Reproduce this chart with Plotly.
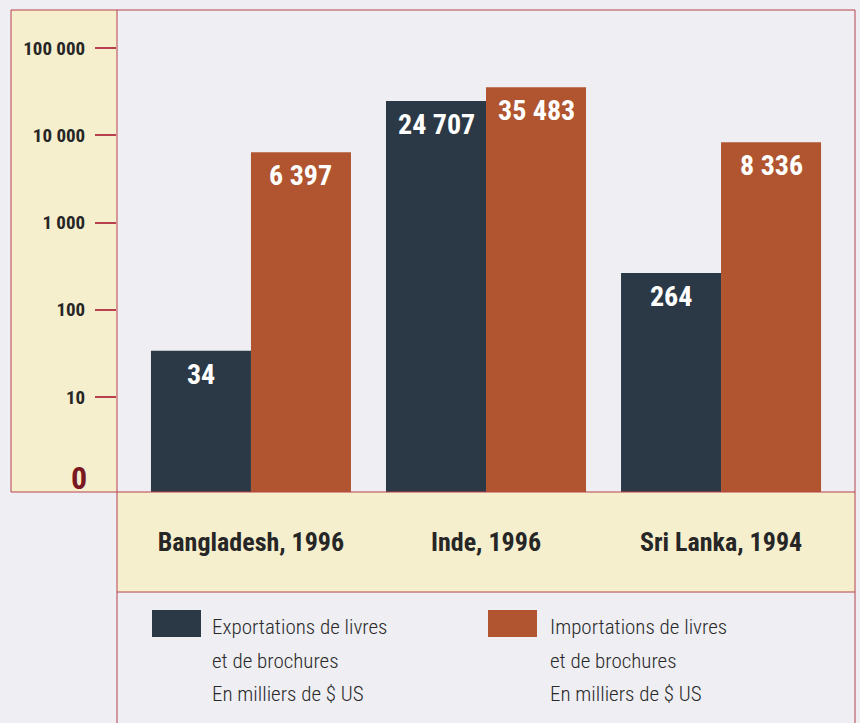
import math
import plotly.graph_objects as go

categories = ["Bangladesh, 1996", "Inde, 1996", "Sri Lanka, 1994"]
exports = [34, 24707, 264]
imports = [6397, 35483, 8336]
export_labels = ["34", "24 707", "264"]
import_labels = ["6 397", "35 483", "8 336"]
ytick_vals = [10, 100, 1000, 10000, 100000]
ytick_text = ["10", "100", "1 000", "10 000", "100 000"]
legend_export = ["Exportations de livres", "et de brochures", "En milliers de $ US"]
legend_import = ["Importations de livres", "et de brochures", "En milliers de $ US"]

NARROW = "Roboto, Lato, sans-serif"
DARK = "#2b3946"
RUST = "#b0552f"
YELLOW = "#f6efcd"
FRAME = "#b8404f"
BG = "#eeeef3"
BARGAP = 0.149

fig = go.Figure()
fig.add_trace(go.Bar(x=categories, y=exports, name="Exportations", marker_color=DARK,
                     marker_line_width=0, showlegend=False, hoverinfo="skip"))
fig.add_trace(go.Bar(x=categories, y=imports, name="Importations", marker_color=RUST,
                     marker_line_width=0, showlegend=False, hoverinfo="skip"))

shapes = []
L = (11 - 117) / 738
B = (492 - 723) / 482
C = (492 - 592) / 482
shapes.append(dict(type="rect", xref="paper", yref="paper", x0=L, x1=0, y0=0, y1=1,
                   fillcolor=YELLOW, line_width=0, layer="below"))
shapes.append(dict(type="rect", xref="paper", yref="paper", x0=0, x1=1, y0=C, y1=0,
                   fillcolor=YELLOW, line_width=0, layer="below"))
for (x0, y0, x1, y1) in [(L, 1, 1, 1), (L, 0, L, 1), (L, 0, 1, 0), (0, B, 0, 1),
                         (1, B, 1, 1), (0, C, 1, C)]:
    shapes.append(dict(type="line", xref="paper", yref="paper", x0=x0, y0=y0, x1=x1, y1=y1,
                       line=dict(color=FRAME, width=1)))


def px(xp):
    return (xp - 117) / 738


def py(yp):
    return (492 - yp) / 482


shapes.append(dict(type="rect", xref="paper", yref="paper", x0=px(152), x1=px(201),
                   y0=py(637), y1=py(610), fillcolor=DARK, line_width=0))
shapes.append(dict(type="rect", xref="paper", yref="paper", x0=px(488), x1=px(537),
                   y0=py(637), y1=py(610), fillcolor=RUST, line_width=0))

annotations = [dict(text="0", xref="paper", yref="paper", x=px(78.5), y=py(478),
                    xanchor="center", yanchor="middle", showarrow=False,
                    font=dict(family=NARROW, size=32, color="#7a1822", weight=700))]

# value labels inside the bars, just below each bar top
off = (1 - BARGAP) / 4
for i, cat in enumerate(categories):
    for val, lab, sgn in [(exports[i], export_labels[i], -1), (imports[i], import_labels[i], 1)]:
        annotations.append(dict(text=lab, xref="x", yref="y", x=i + sgn * off,
                                y=math.log10(val), yanchor="top", yshift=-5, showarrow=False,
                                font=dict(family=NARROW, size=28, color="white", weight=700)))

for i, (a, b) in enumerate(zip(legend_export, legend_import)):
    yy = py([627, 661, 694][i])
    annotations.append(dict(text=a, xref="paper", yref="paper", x=px(210), y=yy,
                            xanchor="left", yanchor="middle", align="left", showarrow=False,
                            font=dict(family=NARROW, size=21, color="#2a2a2a", weight=300)))
    annotations.append(dict(text=b, xref="paper", yref="paper", x=px(548), y=yy,
                            xanchor="left", yanchor="middle", align="left", showarrow=False,
                            font=dict(family=NARROW, size=21, color="#2a2a2a", weight=300)))

fig.update_layout(
    width=860, height=723,
    margin=dict(l=117, r=5, t=10, b=231),
    paper_bgcolor=BG, plot_bgcolor=BG,
    barmode="group", bargap=BARGAP, bargroupgap=0,
    font=dict(family=NARROW, color="#2a2a2a"),
    shapes=shapes, annotations=annotations,
    xaxis=dict(range=[-0.57, 2.57], showgrid=False, zeroline=False, showline=False,
               ticks="", tickfont=dict(family=NARROW, size=26, color="#262626", weight=700),
               ticklabelstandoff=32),
    yaxis=dict(type="log", range=[-0.089, 5.436], showgrid=False, zeroline=False,
               showline=False, tickvals=ytick_vals, ticktext=ytick_text,
               ticks="outside", ticklen=21, tickwidth=1.5, tickcolor=FRAME,
               tickfont=dict(family=NARROW, size=19, color="#262626", weight=700),
               ticklabelstandoff=6),
)
css = ("var s=document.createElement('style');"
       "s.textContent='body{margin:0} text{font-stretch:condensed;}';"
       "document.head.appendChild(s);")
fig.write_html("out.html", post_script=css, config={"displayModeBar": False})
